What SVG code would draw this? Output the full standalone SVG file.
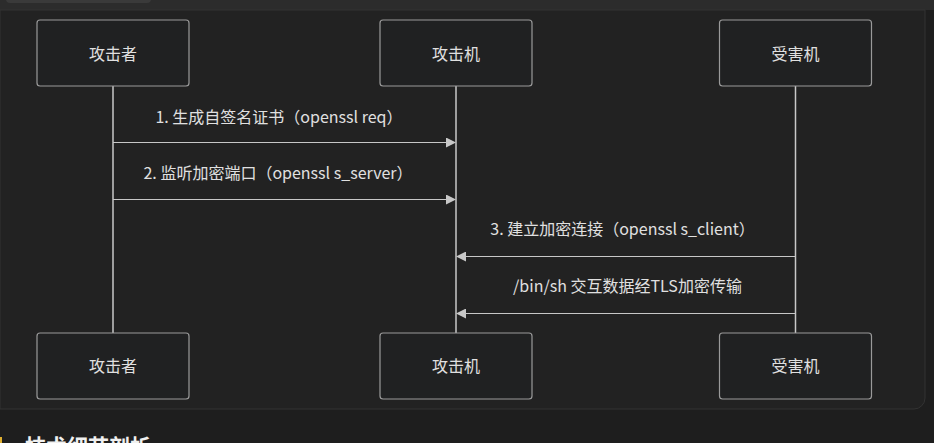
<svg xmlns="http://www.w3.org/2000/svg" width="934" height="443" viewBox="0 0 934 443">
<defs>
<style>
.box{fill:#202122;stroke:#9a9a9a;stroke-width:1.2}
.lbl{font-family:"Noto Sans CJK SC","Liberation Sans",sans-serif;font-size:16px;fill:#e0e0e0;text-anchor:middle}
.life{stroke:#c8c8c8;stroke-width:1.5}
.msg{stroke:#c8c8c8;stroke-width:1.2;fill:none}
</style>
<marker id="ah" viewBox="0 0 10 10" refX="9" refY="5" markerWidth="10" markerHeight="10" markerUnits="userSpaceOnUse" orient="auto">
<path d="M0,0 L10,5 L0,10 z" fill="#c8c8c8"/>
</marker>
</defs>
<rect x="0" y="0" width="934" height="443" fill="#1e1e1e"/>
<rect x="0" y="0" width="934" height="10" fill="#2c2c2c"/>
<rect x="6" y="-6" width="145" height="9" rx="4" fill="#3a3a3a"/>
<path d="M0,10 H925 V398 A11,11 0 0 1 914,409 H0 Z" fill="#222222" stroke="#333" stroke-width="1"/>
<g id="lifelines">
<line class="life" x1="113" y1="86" x2="113" y2="333"/>
<line class="life" x1="456" y1="86" x2="456" y2="333"/>
<line class="life" x1="795.5" y1="86" x2="795.5" y2="333"/>
</g>
<g id="node-attacker-top"><rect class="box" x="37" y="20" width="152" height="66" rx="3"/><text class="lbl" x="113" y="60">攻击者</text></g>
<g id="node-machine-top"><rect class="box" x="380" y="20" width="152" height="66" rx="3"/><text class="lbl" x="456" y="60">攻击机</text></g>
<g id="node-victim-top"><rect class="box" x="719.5" y="20" width="152" height="66" rx="3"/><text class="lbl" x="795.5" y="60">受害机</text></g>
<g id="node-attacker-bottom"><rect class="box" x="37" y="333" width="152" height="66" rx="3"/><text class="lbl" x="113" y="372">攻击者</text></g>
<g id="node-machine-bottom"><rect class="box" x="380" y="333" width="152" height="66" rx="3"/><text class="lbl" x="456" y="372">攻击机</text></g>
<g id="node-victim-bottom"><rect class="box" x="719.5" y="333" width="152" height="66" rx="3"/><text class="lbl" x="795.5" y="372">受害机</text></g>
<g id="connectors">
<line class="msg" x1="113" y1="142.5" x2="455" y2="142.5" marker-end="url(#ah)"/>
<text class="lbl" x="279" y="122.5">1. 生成自签名证书（openssl req）</text>
<line class="msg" x1="113" y1="199.5" x2="455" y2="199.5" marker-end="url(#ah)"/>
<text class="lbl" x="278" y="178.5">2. 监听加密端口（openssl s_server）</text>
<line class="msg" x1="795.5" y1="256.5" x2="457" y2="256.5" marker-end="url(#ah)"/>
<text class="lbl" x="622.5" y="235">3. 建立加密连接（openssl s_client）</text>
<line class="msg" x1="795.5" y1="313.5" x2="457" y2="313.5" marker-end="url(#ah)"/>
<text class="lbl" x="627.5" y="291.5">/bin/sh 交互数据经TLS加密传输</text>
</g>
<rect x="0" y="437" width="2" height="6" fill="#e0b030"/>
<text x="25" y="454" font-family="'Noto Sans CJK SC','Liberation Sans',sans-serif" font-size="21" font-weight="bold" fill="#f0f0f0">技术细节剖析</text>
</svg>
